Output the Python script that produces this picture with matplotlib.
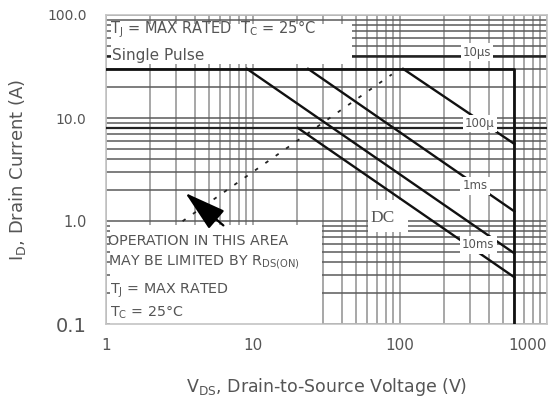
import numpy as np
import matplotlib
matplotlib.use("Agg")
import matplotlib.pyplot as plt
import matplotlib.transforms as mtransforms
from matplotlib.patches import Rectangle
from matplotlib.ticker import NullFormatter

plt.rcParams['font.family'] = ['DejaVu Sans']
plt.rcParams['mathtext.default'] = 'regular'

# data (V_DS in volts, I_D in amps)
limit_v = [1, 600, 600]
limit_i = [30, 30, 0.1]
line_8a_v = [1, 1000]
line_8a_i = [8, 8]
line_10us_v = [1, 1000]
line_10us_i = [40, 40]
us100_v = [105, 600]
us100_i = [30, 5.6]
ms1_v = [23.7, 600]
ms1_i = [30, 1.24]
ms10_v = [9.1, 600]
ms10_i = [30, 0.485]
dc_v = [20.2, 600]
dc_i = [8.0, 0.284]
rds_v = [2.4, 88]
rds_i = [0.72, 26.5]
arrow_tip = (3.35, 1.95)
arrow_tail = (6.5, 0.87)

xticks = [1, 10, 100, 1000]
xtick_labels = ['1', '10', '100', '1000']
xtick_ha = ['center', 'center', 'center', 'right']
yticks = [100, 10, 1, 0.1]
ytick_labels = ['100.0', '10.0', '1.0', '0.1']
ytick_sizes = [10, 10, 10.5, 14]

fig = plt.figure(figsize=(5.56, 4.05), dpi=100)
ax = fig.add_axes([106 / 556, 1 - 324 / 405, 441 / 556, 309 / 405])
ax.set_xscale('log')
ax.set_yscale('log')
ax.set_xlim(1, 1000)
ax.set_ylim(0.1, 100)

txt = '#555555'

# grid
ax.xaxis.grid(True, which='both', color='#a0a0a0', lw=1.3, zorder=0)
ax.yaxis.grid(True, which='both', color='#5a5a5a', lw=1.1, zorder=0)
ax.set_axisbelow(True)

ax.set_xticks(xticks)
ax.xaxis.set_major_formatter(NullFormatter())
ax.xaxis.set_minor_formatter(NullFormatter())
ax.set_yticks(yticks, ytick_labels)
ax.yaxis.set_minor_formatter(NullFormatter())
ax.tick_params(which='both', length=0)
ax.tick_params(axis='y', pad=14, labelcolor=txt)
for lab, s in zip(ax.get_yticklabels(), ytick_sizes):
    lab.set_fontsize(s)

# x tick labels placed at their data positions
xt = mtransforms.blended_transform_factory(ax.transData, ax.transAxes)
for v, s, ha in zip(xticks, xtick_labels, xtick_ha):
    ax.text(v, -0.068, s, transform=xt, ha=ha, va='center', fontsize=11, color=txt)

for sp in ax.spines.values():
    sp.set_color('#c4c4c4')
    sp.set_linewidth(1.2)

# curves
ax.plot(line_10us_v, line_10us_i, color='#222222', lw=1.8, zorder=1.5)
ax.plot(line_8a_v, line_8a_i, color='#222222', lw=1.6, zorder=3)
ax.plot(limit_v, limit_i, color='#111111', lw=2.0, zorder=3)
for v, i in [(us100_v, us100_i), (ms1_v, ms1_i), (ms10_v, ms10_i), (dc_v, dc_i)]:
    ax.plot(v, i, color='#111111', lw=1.7, zorder=3)
ax.plot(rds_v, rds_i, color='#222222', lw=1.3, ls=(0, (2, 5)), zorder=1.6)
ax.annotate('', xy=arrow_tip, xytext=arrow_tail,
            arrowprops=dict(arrowstyle='-|>,head_length=2.6,head_width=0.75',
                            mutation_scale=10, color='black', lw=1.6),
            zorder=4)

# white boxes
for x0, y0, x1, y1 in [(0.011, 0.841, 0.558, 0.971),
                       (0.009, 0.0, 0.49, 0.32),
                       (0.594, 0.298, 0.685, 0.401)]:
    ax.add_patch(Rectangle((x0, y0), x1 - x0, y1 - y0, transform=ax.transAxes,
                           facecolor='white', edgecolor='none', zorder=2))

tk = dict(transform=ax.transAxes, color=txt, zorder=5, va='baseline', ha='left')
ax.text(0.009, 0.942, r'T$_J$ = MAX RATED  T$_C$ = 25°C', fontsize=10.5, **tk)
ax.text(0.014, 0.854, 'Single Pulse', fontsize=11, **tk)
ax.text(0.004, 0.256, 'OPERATION IN THIS AREA', fontsize=10.3, **tk)
ax.text(0.004, 0.191, r'MAY BE LIMITED BY R$_{DS(ON)}$', fontsize=10.3, **tk)
ax.text(0.009, 0.097, r'T$_J$ = MAX RATED', fontsize=10.3, **tk)
ax.text(0.009, 0.023, r'T$_C$ = 25°C', fontsize=10.3, **tk)
ax.text(0.599, 0.33, 'DC', fontsize=12.5, family='Liberation Serif', **tk)

lb = dict(transform=ax.transAxes, color=txt, zorder=5, va='center', ha='center',
          fontsize=8.5, bbox=dict(facecolor='white', edgecolor='none', pad=1.5))
ax.text(0.841, 0.880, '10µs', **lb)
ax.text(0.848, 0.650, '100µ', **lb)
ax.text(0.837, 0.447, '1ms', **lb)
ax.text(0.844, 0.256, '10ms', **lb)

ax.set_xlabel(r'V$_{DS}$, Drain-to-Source Voltage (V)', fontsize=12.5, color=txt, labelpad=34)
ax.set_ylabel(r'I$_D$, Drain Current (A)', fontsize=13, color=txt, labelpad=14)

fig.savefig('out.png', dpi=100)
